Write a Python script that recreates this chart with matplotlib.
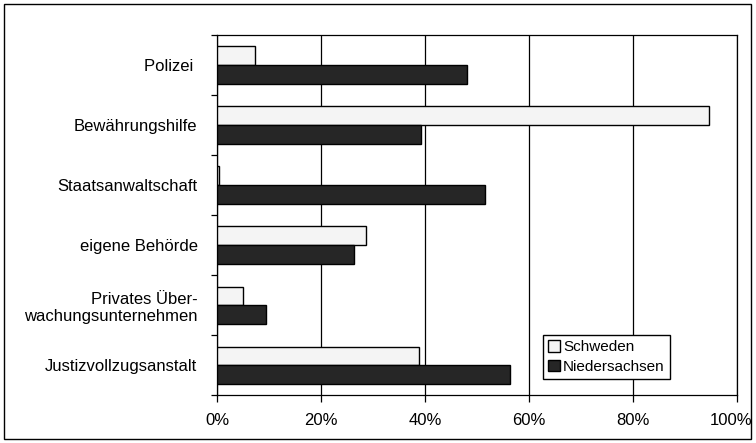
#!/usr/bin/env python3
"""Horizontal grouped bar chart: Schweden vs. Niedersachsen."""

import matplotlib

matplotlib.use("Agg")
import matplotlib.pyplot as plt
import matplotlib.transforms as mtransforms
import numpy as np
from matplotlib.patches import Rectangle
from matplotlib.ticker import FixedLocator, PercentFormatter

categories = [
    "Polizei ",
    "Bewährungshilfe",
    "Staatsanwaltschaft",
    "eigene Behörde",
    "Privates Über-\nwachungsunternehmen",
    "Justizvollzugsanstalt",
]
schweden = [7.3, 94.6, 0.4, 28.6, 5.1, 38.9]
niedersachsen = [48.0, 39.2, 51.5, 26.4, 9.4, 56.3]
series_names = ["Schweden", "Niedersachsen"]
x_ticks = [0, 20, 40, 60, 80, 100]

plt.rcParams["font.family"] = ["Liberation Sans", "DejaVu Sans"]

fig = plt.figure(figsize=(7.56, 4.43), dpi=100)
ax = fig.add_axes([0.287, 0.108, 0.688, 0.813])

y = np.arange(len(categories))
h = 0.31
ax.barh(y - h / 2, schweden, height=h, color="#f4f4f4", edgecolor="black",
        linewidth=1.0, label=series_names[0], zorder=3)
ax.barh(y + h / 2, niedersachsen, height=h, color="#262626", edgecolor="black",
        linewidth=1.0, label=series_names[1], zorder=3)

ax.set_xlim(0, 100)
ax.set_ylim(len(categories) - 0.5, -0.5)
ax.set_xticks(x_ticks)
ax.xaxis.set_major_formatter(PercentFormatter(decimals=0))
ax.grid(axis="x", color="black", linewidth=0.9, zorder=1)

ax.set_yticks(y)
ax.set_yticklabels(categories, fontsize=12, ha="right", multialignment="right")
ax.tick_params(axis="y", length=0, pad=14)
ax.yaxis.set_minor_locator(FixedLocator(np.arange(len(categories) + 1) - 0.5))
ax.tick_params(axis="y", which="minor", length=4, width=0.9, direction="out")
ax.tick_params(axis="x", labelsize=12, length=5, width=0.9, direction="out", pad=8)

# last tick label sits a bit left of its tick, like the original
fig.canvas.draw()
last = ax.get_xticklabels()[-1]
last.set_transform(last.get_transform()
                   + mtransforms.ScaledTranslation(-6 / 100, 0, fig.dpi_scale_trans))

for side in ["left", "bottom", "top", "right"]:
    ax.spines[side].set_linewidth(0.9)
    ax.spines[side].set_color("black")

ax.legend(loc="lower left", bbox_to_anchor=(0.627, 0.045), fontsize=11,
          frameon=True, fancybox=False, edgecolor="black", framealpha=1,
          handlelength=0.75, handleheight=0.75, handletextpad=0.2,
          labelspacing=0.35, borderpad=0.35, borderaxespad=0)

fig.patches.append(Rectangle((4 / 756, 4 / 443), 747 / 756, 435 / 443,
                             transform=fig.transFigure, fill=False,
                             edgecolor="black", linewidth=1.0))

fig.savefig("out.png", dpi=100)
